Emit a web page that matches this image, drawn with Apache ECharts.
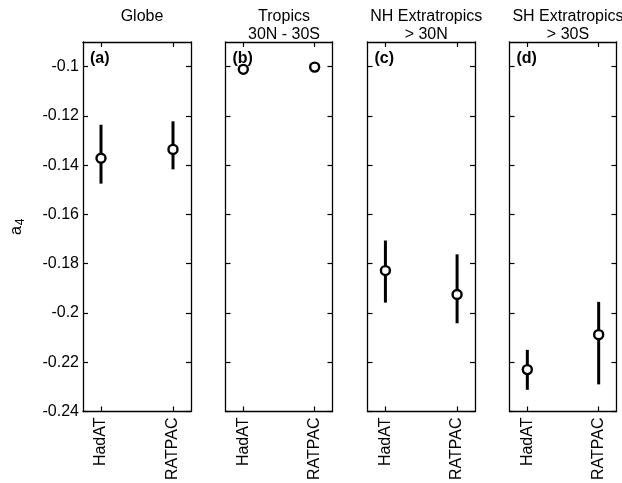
<!DOCTYPE html>
<html>
<head>
<meta charset="utf-8">
<script src="https://cdn.jsdelivr.net/npm/echarts@6/dist/echarts.min.js"></script>
<style>html,body{margin:0;padding:0;background:#fff;}#c{width:622px;height:483px;}</style>
</head>
<body>
<div id="c"></div>
<script>
// ---- data ----
var categories = ['HadAT', 'RATPAC'];
var panelTitles = ['Globe', 'Tropics\n30N - 30S', 'NH Extratropics\n> 30N', 'SH Extratropics\n> 30S'];
var panelLabels = ['(a)', '(b)', '(c)', '(d)'];
var hadatValue  = [-0.1372, -0.1011, -0.1828, -0.2230];
var hadatLow    = [-0.1475, -0.1017, -0.1958, -0.2312];
var hadatHigh   = [-0.1236, -0.1005, -0.1706, -0.2150];
var ratpacValue = [-0.1336, -0.1002, -0.1925, -0.2088];
var ratpacLow   = [-0.1417, -0.1008, -0.2042, -0.2290];
var ratpacHigh  = [-0.1222, -0.0996, -0.1762, -0.1955];
var yTicks = [-0.24, -0.22, -0.2, -0.18, -0.16, -0.14, -0.12, -0.1];

// ---- layout ----
var FONT = 'Liberation Sans, Arial, Helvetica, sans-serif';
var panels = [
  {left: 83, width: 108},
  {left: 225.5, width: 107},
  {left: 367.5, width: 107.5},
  {left: 509.5, width: 107}
];
var gridTop = 42, gridHeight = 370;

var grids = [], xAxes = [], yAxes = [], series = [], titles = [];
panels.forEach(function (p, i) {
  grids.push({left: p.left, top: gridTop, width: p.width, height: gridHeight, containLabel: false});
  var xBase = {
    type: 'value', gridIndex: i, min: 0.75, max: 2.25,
    splitLine: {show: false},
    axisLine: {show: true, onZero: false, lineStyle: {color: '#000', width: 1.3}},
    axisTick: {show: true, inside: true, length: 5, customValues: [1, 2], lineStyle: {color: '#000', width: 1.2}}
  };
  xAxes.push(Object.assign({}, xBase, {
    position: 'bottom',
    axisLabel: {show: true, customValues: [1, 2], rotate: 90, margin: 6,
      fontFamily: FONT, fontSize: 16, color: '#000',
      formatter: function (v) { return categories[Math.round(v) - 1] || ''; }}
  }));
  xAxes.push(Object.assign({}, xBase, {position: 'top', axisLabel: {show: false}}));
  var yBase = {
    type: 'value', gridIndex: i, min: -0.24, max: -0.09,
    splitLine: {show: false},
    axisLine: {show: true, onZero: false, lineStyle: {color: '#000', width: 1.3}},
    axisTick: {show: true, inside: true, length: 5, customValues: yTicks, lineStyle: {color: '#000', width: 1.2}}
  };
  var yLeft = Object.assign({}, yBase, {
    position: 'left',
    axisLabel: {show: i === 0, customValues: yTicks, margin: 4,
      fontFamily: FONT, fontSize: 16, color: '#000',
      formatter: function (v) { return String(+(+v).toFixed(2)); }}
  });
  if (i === 0) {
    yLeft.name = 'a{sub|4}';
    yLeft.nameLocation = 'middle';
    yLeft.nameGap = 56;
    yLeft.nameRotate = 90;
    yLeft.nameTextStyle = {fontFamily: FONT, fontSize: 16, color: '#000',
      rich: {sub: {fontFamily: FONT, fontSize: 12, color: '#000', verticalAlign: 'bottom', padding: [8, 0, 0, 1]}}};
  }
  yAxes.push(yLeft);
  yAxes.push(Object.assign({}, yBase, {position: 'right', axisLabel: {show: false}}));

  titles.push({
    text: panelTitles[i], left: p.left + p.width / 2, top: 3, textAlign: 'center',
    textStyle: {fontFamily: FONT, fontSize: 16, fontWeight: 'normal', color: '#000', lineHeight: 18}
  });
  titles.push({
    text: panelLabels[i], left: p.left + 2, top: 46,
    textStyle: {fontFamily: FONT, fontSize: 16, fontWeight: 'bold', color: '#000'}
  });

  var centers = [[1, hadatValue[i]], [2, ratpacValue[i]]];
  var bars = [[1, hadatLow[i], hadatHigh[i]], [2, ratpacLow[i], ratpacHigh[i]]];
  series.push({
    type: 'custom', xAxisIndex: 2 * i, yAxisIndex: 2 * i, data: bars, silent: true, z: 2,
    renderItem: function (params, api) {
      var a = api.coord([api.value(0), api.value(1)]);
      var b = api.coord([api.value(0), api.value(2)]);
      return {type: 'line', shape: {x1: a[0], y1: a[1], x2: b[0], y2: b[1]},
        style: {stroke: '#000', lineWidth: 3}};
    }
  });
  series.push({
    type: 'scatter', xAxisIndex: 2 * i, yAxisIndex: 2 * i, data: centers, z: 3,
    symbol: 'circle', symbolSize: 9,
    itemStyle: {color: '#fff', borderColor: '#000', borderWidth: 2.4, opacity: 1}
  });
});

var chart = echarts.init(document.getElementById('c'), null, {renderer: 'canvas'});
chart.setOption({
  animation: false,
  backgroundColor: '#fff',
  title: titles,
  grid: grids,
  xAxis: xAxes,
  yAxis: yAxes,
  series: series
});
</script>
</body>
</html>
